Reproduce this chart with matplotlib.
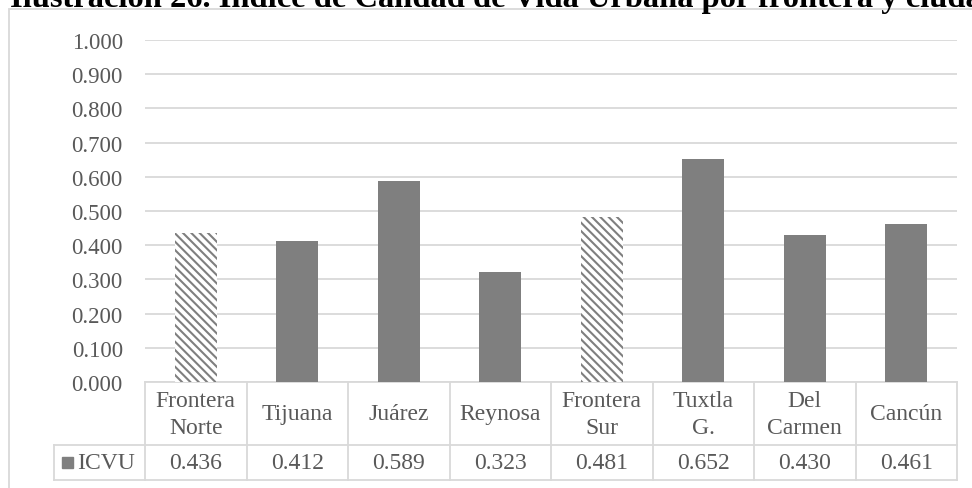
import matplotlib
matplotlib.use("Agg")
import matplotlib.pyplot as plt
import matplotlib.transforms as mtransforms
from matplotlib.patches import Rectangle
from matplotlib.lines import Line2D

# ---- data ----
categories = ["Frontera\nNorte", "Tijuana", "Juárez", "Reynosa",
              "Frontera\nSur", "Tuxtla\nG.", "Del\nCarmen", "Cancún"]
values = [0.436, 0.412, 0.589, 0.323, 0.481, 0.652, 0.430, 0.461]
is_region = [True, False, False, False, True, False, False, False]
series_name = "ICVU"
yticks = [0.0, 0.1, 0.2, 0.3, 0.4, 0.5, 0.6, 0.7, 0.8, 0.9, 1.0]
title = "Ilustración 26. Índice de Calidad de Vida Urbana por frontera y ciudad"

# ---- style ----
W, H = 972, 489
TXT = "#595959"
GRID = "#d9d9d9"
BAR = "#7f7f7f"
FS = 17
FS_TICK = 16.5

plt.rcParams["font.family"] = ["Liberation Serif", "DejaVu Serif"]
plt.rcParams["hatch.linewidth"] = 1.5

fig = plt.figure(figsize=(W / 100, H / 100), dpi=100)

def fx(px):
    return px / W

def fy(py):
    return 1 - py / H

# outer chart frame
fig.patches.append(Rectangle((fx(8.5), fy(1000)), fx(2000), fy(9.5) - fy(1000),
                             transform=fig.transFigure, fill=False,
                             edgecolor=GRID, linewidth=1.3))

fig.text(fx(10), fy(7), title, ha="left", va="baseline", fontsize=23.4,
         fontweight="bold", color="black")

# plot area
x0, x1, ytop, ybot = 145, 957, 41, 383
ax = fig.add_axes([fx(x0), fy(ybot), fx(x1 - x0), fy(ytop) - fy(ybot)])
n = len(categories)
ax.set_xlim(-0.5, n - 0.5)
ax.set_ylim(0, 1)

xs = list(range(n))
for x, v, reg in zip(xs, values, is_region):
    if reg:
        ax.bar(x, v, width=0.41, color="white", edgecolor=BAR,
               hatch="\\\\\\\\", linewidth=0, zorder=3)
    else:
        ax.bar(x, v, width=0.41, color=BAR, linewidth=0, zorder=3)

ax.set_yticks(yticks)
ax.set_yticklabels([f"{t:.3f}" for t in yticks], fontsize=FS_TICK, color=TXT)
ax.tick_params(axis="y", length=0, pad=16)
ax.set_xticks([])
ax.grid(axis="y", color=GRID, linewidth=1.3, zorder=0)
ax.set_axisbelow(True)
for s in ax.spines.values():
    s.set_visible(False)

# ---- data table under the axis ----
ax_h = ybot - ytop
def ay(py):
    return (ybot - py) / ax_h

def axx(px):
    return (px - x0) / (x1 - x0)

row1_bot = 446
row2_bot = 481
blend = mtransforms.blended_transform_factory(ax.transData, ax.transAxes)

def hline(xa, xb, y):
    ax.add_line(Line2D([xa, xb], [y, y], transform=ax.transAxes, color=GRID,
                       linewidth=1.3, clip_on=False, zorder=1))

hline(0, 1, ay(ybot))
hline(axx(54), 1, ay(row1_bot))
hline(axx(54), 1, ay(row2_bot))
for b in [i - 0.5 for i in range(n + 1)]:
    ax.add_line(Line2D([b, b], [ay(ybot), ay(row2_bot)], transform=blend,
                       color=GRID, linewidth=1.3, clip_on=False, zorder=1))
ax.add_line(Line2D([axx(54), axx(54)], [ay(row1_bot), ay(row2_bot)],
                   transform=ax.transAxes, color=GRID, linewidth=1.3,
                   clip_on=False, zorder=1))

for x, cat, v in zip(xs, categories, values):
    ax.text(x, ay(415), cat, transform=blend, ha="center",
            va="center", fontsize=FS, color=TXT, linespacing=1.42)
    ax.text(x, ay((row1_bot + row2_bot) / 2), f"{v:.3f}", transform=blend,
            ha="center", va="center", fontsize=FS, color=TXT)

# legend key inside the table
ax.add_patch(Rectangle((axx(62), ay(469)), axx(73) - axx(62), ay(458) - ay(469),
                       transform=ax.transAxes, color=BAR, clip_on=False))
ax.text(axx(77), ay((row1_bot + row2_bot) / 2), series_name,
        transform=ax.transAxes, ha="left", va="center", fontsize=FS, color=TXT)

fig.savefig("out.png", dpi=100)
